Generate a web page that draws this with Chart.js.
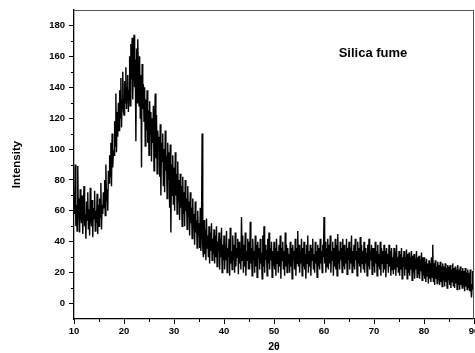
<!DOCTYPE html>
<html>
<head>
<meta charset="utf-8">
<script src="https://cdn.jsdelivr.net/npm/chart.js@4"></script>
<style>
  html, body { margin: 0; padding: 0; background: #fff; }
  #wrap { width: 475px; height: 353px; }
</style>
</head>
<body>
<div id="wrap"><canvas id="xrd"></canvas></div>
<script>
// scan grid (degrees 2-theta)
const thetaStart = 10
const thetaStep = 0.125

// intensity, one row per 5 degrees
const intensity = [
  72, 58, 90, 50, 64, 47, 89, 55, 68, 46, 74, 60, 52, 70, 45, 63, 76, 50, 58, 42,
  66, 54, 72, 48, 61, 44, 75, 57, 50, 67, 43, 62, 55, 73, 47, 60, 52, 71, 45, 64,
  50, 68, 56, 78, 48, 64, 58, 72, 62, 80, 57, 90, 66, 74, 60, 86,
  78, 96, 82, 104, 76, 110, 88, 98, 96, 118, 102, 136, 98, 124, 108, 130,
  112, 138, 120, 146, 114, 132, 150, 125,
  122, 144, 130, 153, 126, 140, 148, 124, 138, 160, 128, 168, 145, 172, 132, 155,
  174, 140, 158, 105, 165, 130, 171, 150, 128, 160, 120, 148, 88, 155, 126, 142,
  118, 140, 102, 132, 112, 138, 104, 125,
  96, 131, 110, 124, 92, 120, 104, 128, 86, 118, 136, 94, 122, 84, 112, 100,
  108, 82, 116, 70, 104, 92, 110, 76, 100, 72, 112, 86, 96, 68, 104, 80,
  98, 62, 103, 46, 90, 70, 96, 64,
  88, 60, 98, 70, 84, 58, 92, 66, 80, 54, 84, 62, 76, 50, 82, 58,
  72, 50, 80, 60, 68, 48, 76, 56, 66, 44, 72, 52, 62, 42, 68, 48,
  58, 38, 66, 46, 54, 36, 60, 44,
  52, 36, 62, 34, 48, 110, 36, 30, 54, 32, 48, 28, 55, 36, 44, 30,
  50, 26, 46, 34, 52, 28, 42, 32, 48, 26, 44, 30, 50, 24, 40, 34,
  46, 22, 42, 30, 49, 20, 38, 28,
  44, 22, 38, 28, 47, 20, 36, 30, 42, 18, 49, 26, 34, 22, 44, 28,
  38, 20, 46, 24, 36, 30, 42, 19, 40, 26, 36, 22, 56, 28, 44, 20,
  38, 24, 46, 18, 34, 28, 42, 22,
  40, 22, 53, 26, 36, 18, 42, 28, 34, 20, 44, 24, 38, 17, 40, 30,
  36, 22, 42, 26, 33, 16, 44, 24, 50, 20, 38, 28, 35, 18, 42, 26,
  46, 22, 36, 28, 40, 17, 34, 24,
  40, 22, 36, 18, 42, 26, 34, 20, 38, 24, 44, 16, 36, 28, 40, 22,
  34, 18, 46, 24, 38, 20, 36, 26, 32, 20, 40, 24, 36, 16, 38, 28,
  34, 22, 42, 18, 36, 26, 47, 24,
  38, 20, 34, 26, 42, 18, 36, 24, 40, 22, 32, 16, 38, 26, 44, 20,
  34, 24, 38, 18, 36, 28, 42, 22, 32, 20, 40, 26, 34, 17, 38, 24,
  36, 22, 42, 26, 34, 20, 38, 30,
  56, 26, 40, 20, 36, 24, 42, 22, 38, 26, 44, 20, 34, 28, 40, 18,
  36, 24, 42, 22, 38, 18, 45, 26, 34, 22, 40, 28, 36, 20, 42, 24,
  38, 22, 34, 26, 42, 19, 36, 28,
  40, 22, 36, 26, 44, 20, 34, 24, 38, 22, 42, 28, 34, 18, 40, 26,
  36, 24, 43, 20, 38, 26, 34, 22, 40, 20, 36, 26, 33, 18, 38, 24,
  42, 22, 34, 28, 38, 19, 36, 24,
  36, 20, 40, 26, 34, 18, 38, 24, 32, 22, 40, 18, 36, 26, 34, 20,
  38, 22, 34, 17, 36, 26, 32, 20, 38, 24, 34, 18, 36, 22, 30, 19,
  36, 22, 34, 18, 38, 24, 30, 20,
  34, 18, 32, 22, 36, 16, 30, 24, 34, 18, 30, 22, 35, 16, 32, 20,
  33, 18, 30, 22, 34, 15, 31, 20, 32, 16, 29, 22, 34, 17, 30, 19,
  31, 16, 28, 21, 33, 15, 30, 18,
  30, 16, 27, 14, 29, 18, 26, 13, 28, 16, 26, 14, 30, 17, 38, 14,
  26, 12, 28, 16, 24, 13, 27, 15, 25, 12, 27, 14, 24, 11, 26, 15,
  24, 11, 26, 14, 23, 10, 25, 15,
  24, 12, 25, 10, 22, 14, 26, 11, 23, 10, 24, 13, 22, 9, 25, 12,
  22, 9, 24, 12, 21, 10, 23, 11, 21, 8, 23, 11, 20, 9, 22, 10,
  20, 8, 22, 10, 4, 12, 21, 9,
  14
]

const xTicks = [10, 20, 30, 40, 50, 60, 70, 80, 90]
const yTicks = [0, 20, 40, 60, 80, 100, 120, 140, 160, 180]

const points = intensity.map((v, i) => ({ x: thetaStart + i * thetaStep, y: v }))

const labelFont = { family: 'Arial, "Liberation Sans", sans-serif', size: 9.5, weight: 'bold' }

// minor ticks + frame, drawn through the chart scales
const frame = {
  id: 'frame',
  afterDraw(chart) {
    const ctx = chart.ctx
    const a = chart.chartArea
    const xs = chart.scales.x, ys = chart.scales.y
    ctx.save()
    ctx.strokeStyle = '#555'
    ctx.lineWidth = 1
    ctx.beginPath()
    ctx.moveTo(a.left, a.top + 0.5)
    ctx.lineTo(a.right, a.top + 0.5)
    ctx.moveTo(a.right - 0.5, a.top)
    ctx.lineTo(a.right - 0.5, a.bottom)
    ctx.stroke()
    ctx.strokeStyle = '#000'
    ctx.beginPath()
    for (let v = 15; v < 90; v += 10) {
      const px = Math.round(xs.getPixelForValue(v)) + 0.5
      ctx.moveTo(px, a.bottom)
      ctx.lineTo(px, a.bottom + 3)
    }
    for (let v = 10; v < 190; v += 20) {
      const py = Math.round(ys.getPixelForValue(v)) + 0.5
      ctx.moveTo(a.left, py)
      ctx.lineTo(a.left - 3, py)
    }
    ctx.stroke()
    ctx.restore()
  }
}

new Chart(document.getElementById('xrd'), {
  type: 'line',
  data: {
    datasets: [{
      data: points,
      borderColor: '#000',
      borderWidth: 1.4,
      pointRadius: 0,
      tension: 0,
      fill: false
    }]
  },
  options: {
    responsive: true,
    maintainAspectRatio: false,
    animation: false,
    layout: { padding: { top: 10, right: 1, left: 0, bottom: 0 } },
    plugins: {
      legend: { display: false },
      tooltip: { enabled: false },
      title: { display: false }
    },
    scales: {
      x: {
        type: 'linear',
        min: 10,
        max: 90,
        afterFit(s) { s.height = 34; s.paddingLeft = 0; s.paddingRight = 0 },
        afterBuildTicks(s) { s.ticks = xTicks.map(v => ({ value: v })) },
        border: { color: '#000', width: 1.3 },
        grid: { drawOnChartArea: false, tickLength: 5, tickColor: '#000' },
        ticks: { color: '#000', font: labelFont, padding: 2, maxRotation: 0 },
        title: {
          display: true, text: '2θ', color: '#000', padding: { top: 0, bottom: 0 },
          font: { family: 'Arial, "Liberation Sans", sans-serif', size: 10.5, weight: 'bold' }
        }
      },
      y: {
        min: -10,
        max: 190,
        afterFit(s) { s.width = 74 },
        afterBuildTicks(s) { s.ticks = yTicks.map(v => ({ value: v })) },
        border: { color: '#000', width: 1.3 },
        grid: { drawOnChartArea: false, tickLength: 5, tickColor: '#000' },
        ticks: { color: '#000', font: labelFont, padding: 4 },
        title: {
          display: true, text: 'Intensity', color: '#000', padding: { top: 10, bottom: 0 },
          font: { family: 'Arial, "Liberation Sans", sans-serif', size: 11.5, weight: 'bold' }
        }
      }
    }
  },
  plugins: [frame, {
    id: 'label',
    afterDraw(chart) {
      const ctx = chart.ctx
      ctx.save()
      ctx.fillStyle = '#000'
      ctx.font = 'bold 13px Arial, "Liberation Sans", sans-serif'
      ctx.textAlign = 'center'
      ctx.textBaseline = 'middle'
      ctx.fillText('Silica fume', chart.scales.x.getPixelForValue(69.8), chart.scales.y.getPixelForValue(162))
      ctx.restore()
    }
  }]
})
</script>
</body>
</html>
